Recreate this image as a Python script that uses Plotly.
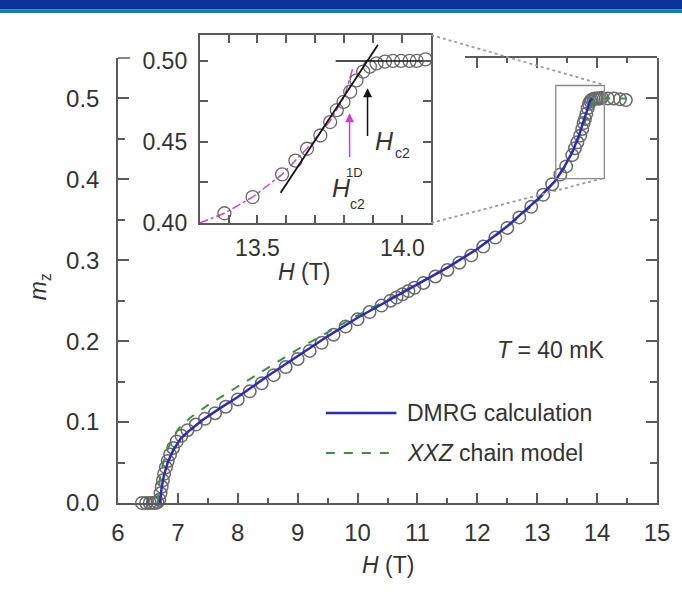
import plotly.graph_objects as go

# ---------------- data ----------------
H_data = [6.40, 6.47, 6.53, 6.58, 6.62, 6.66, 6.69, 6.71, 6.73, 6.75, 6.77, 6.80, 6.83, 6.87, 6.92, 6.98,
          7.06, 7.16, 7.30, 7.45, 7.62, 7.80, 8.00, 8.20, 8.40, 8.60, 8.80, 9.00, 9.20, 9.40, 9.60, 9.80,
          10.00, 10.20, 10.40, 10.55, 10.65, 10.75, 10.85, 10.95, 11.10, 11.30, 11.50, 11.70, 11.90,
          12.10, 12.30, 12.50, 12.70, 12.90, 13.10, 13.25,
          13.386, 13.483, 13.585, 13.631, 13.671, 13.717, 13.751, 13.774, 13.797, 13.82, 13.842, 13.865,
          13.888, 13.911, 13.94, 13.968, 13.996, 14.025, 14.05, 14.08, 14.18, 14.28, 14.38, 14.48]
m_data = [0.000, 0.000, 0.000, 0.000, 0.000, 0.001, 0.004, 0.012, 0.020, 0.028, 0.036, 0.044, 0.052, 0.060, 0.068, 0.076,
          0.083, 0.090, 0.097, 0.104, 0.111, 0.119, 0.128, 0.138, 0.148, 0.158, 0.168, 0.178, 0.188, 0.198, 0.208, 0.218,
          0.227, 0.236, 0.244, 0.250, 0.254, 0.258, 0.262, 0.266, 0.272, 0.280, 0.288, 0.297, 0.306,
          0.317, 0.328, 0.340, 0.353, 0.366, 0.381, 0.394,
          0.406, 0.416, 0.430, 0.4385, 0.4458, 0.454, 0.4623, 0.4696, 0.4747, 0.481, 0.488, 0.4934,
          0.4965, 0.4985, 0.4996, 0.500, 0.500, 0.500, 0.500, 0.501, 0.500, 0.500, 0.499, 0.498]

H_dmrg = [6.70, 6.73, 6.77, 6.83, 6.92, 7.05, 7.20, 7.40, 7.70, 8.00, 8.50, 9.00, 9.50, 10.00, 10.50, 11.00,
          11.50, 12.00, 12.50, 13.00, 13.30, 13.45, 13.60, 13.70, 13.78, 13.84, 13.88, 13.92]
m_dmrg = [0.000, 0.020, 0.035, 0.050, 0.065, 0.080, 0.090, 0.102, 0.117, 0.131, 0.157, 0.182, 0.206, 0.229, 0.250, 0.270,
          0.291, 0.314, 0.342, 0.375, 0.398, 0.415, 0.436, 0.455, 0.472, 0.487, 0.497, 0.500]

H_xxz = [6.66, 6.70, 6.75, 6.82, 6.90, 7.00, 7.20, 7.50, 8.00, 8.50, 9.00, 9.50, 10.00, 10.50, 11.00, 11.50,
         12.00, 12.50, 13.00, 13.30, 13.50, 13.70, 13.85, 13.95, 14.10, 14.50]
m_xxz = [0.000, 0.030, 0.048, 0.065, 0.078, 0.091, 0.105, 0.121, 0.144, 0.167, 0.190, 0.211, 0.232, 0.251, 0.271, 0.291,
         0.314, 0.341, 0.373, 0.398, 0.420, 0.452, 0.482, 0.500, 0.500, 0.500]

# inset guide lines
H_fit = [13.58, 13.916]
m_fit = [0.4186, 0.510]
H_sat = [13.77, 14.10]
m_sat = [0.500, 0.500]
H_1d = [13.30, 13.386, 13.483, 13.585, 13.671, 13.751, 13.80, 13.83]
m_1d = [0.400, 0.406, 0.416, 0.430, 0.446, 0.463, 0.478, 0.496]

x_ticks = [6, 7, 8, 9, 10, 11, 12, 13, 14, 15]
top_ticks = [12, 13, 14, 15]
y_ticks = [0.0, 0.1, 0.2, 0.3, 0.4, 0.5]
inset_x_ticks = [13.5, 14.0]
inset_y_ticks = [0.40, 0.45, 0.50]

# ---------------- style ----------------
AX = "#5a5a5a"
TXT = "#333333"
FONT = "Arial"
FS = 23

fig = go.Figure()

# main traces
fig.add_trace(go.Scatter(x=H_data, y=m_data, mode="markers", xaxis="x", yaxis="y",
                         marker=dict(symbol="circle-open", size=12.5, color="#6a6a6a", line=dict(width=1.5)),
                         cliponaxis=False, name="data"))
fig.add_trace(go.Scatter(x=H_xxz, y=m_xxz, mode="lines", xaxis="x", yaxis="y",
                         line=dict(color="#3f8f3f", width=2, dash="dash"), name="XXZ chain model"))
fig.add_trace(go.Scatter(x=H_dmrg, y=m_dmrg, mode="lines", xaxis="x", yaxis="y",
                         line=dict(color="#2b2bb8", width=2.5), name="DMRG calculation"))
# invisible anchor trace for the partial top frame axis
fig.add_trace(go.Scatter(x=[top_ticks[0]], y=[y_ticks[3]], mode="markers", xaxis="x3", yaxis="y",
                         marker=dict(opacity=0), hoverinfo="skip"))

# inset traces
fig.add_trace(go.Scatter(x=H_1d, y=m_1d, mode="lines", xaxis="x2", yaxis="y2",
                         line=dict(color="#d040d0", width=1.5, dash="dashdot")))
fig.add_trace(go.Scatter(x=H_data, y=m_data, mode="markers", xaxis="x2", yaxis="y2",
                         marker=dict(symbol="circle-open", size=13, color="#6a6a6a", line=dict(width=1.3))))
fig.add_trace(go.Scatter(x=H_fit, y=m_fit, mode="lines", xaxis="x2", yaxis="y2",
                         line=dict(color="#111111", width=1.8)))
fig.add_trace(go.Scatter(x=H_sat, y=m_sat, mode="lines", xaxis="x2", yaxis="y2",
                         line=dict(color="#111111", width=1.5)))

main_top = 0.9408
top_frame_start = 0.6439   # where the top frame re-appears to the right of the inset

def axis_common(size, mirror="ticks"):
    return dict(showline=True, linecolor=AX, linewidth=1.5, mirror=mirror, ticks="inside",
                tickcolor=AX, tickwidth=1.5, showgrid=False, zeroline=False,
                tickfont=dict(family=FONT, size=size, color=TXT))

fig.update_layout(
    width=682, height=604,
    margin=dict(l=118, r=22, t=30, b=101),
    paper_bgcolor="white", plot_bgcolor="rgba(0,0,0,0)",
    showlegend=False,
    xaxis=dict(domain=[0, 1], range=[6, 15], anchor="y", tickvals=x_ticks, ticklen=10,
               minor=dict(dtick=0.5, tick0=6, ticks="inside", ticklen=5, tickcolor=AX, tickwidth=1.5),
               ticklabelstandoff=7, **axis_common(24, mirror=False)),
    xaxis3=dict(domain=[top_frame_start, 1], range=[6 + top_frame_start * 9, 15], anchor="y", side="top",
                tickvals=top_ticks, ticklen=10, showticklabels=False,
                minor=dict(dtick=0.5, tick0=6, ticks="inside", ticklen=5, tickcolor=AX, tickwidth=1.5),
                **axis_common(24, mirror=False)),
    yaxis=dict(domain=[0, main_top], range=[0, 0.55], anchor="x", tickvals=y_ticks, tickformat=".1f",
               ticklen=11,
               minor=dict(dtick=0.05, tick0=0, ticks="inside", ticklen=7, tickcolor=AX, tickwidth=1.5),
               ticklabelstandoff=12, **axis_common(24)),
    xaxis2=dict(domain=[0.1513, 0.5812], range=[13.3, 14.1], anchor="y2", tickvals=inset_x_ticks,
                tickformat=".1f", ticklen=8,
                minor=dict(dtick=0.1, tick0=13.3, ticks="inside", ticklen=8, tickcolor=AX, tickwidth=1.5),
                ticklabelstandoff=4, **axis_common(23)),
    yaxis2=dict(domain=[0.592, 0.9894], range=[0.40, 0.516], anchor="x2", tickvals=inset_y_ticks,
                tickformat=".2f", ticklen=9,
                minor=dict(dtick=0.025, tick0=0.4, ticks="inside", ticklen=9, tickcolor=AX, tickwidth=1.5),
                ticklabelstandoff=6, **axis_common(23)),
)

shapes = []
# header banner
shapes.append(dict(type="rect", xref="paper", yref="paper", x0=-0.3, x1=1.1, y0=1.0434, y1=1.08,
                   fillcolor="#0a3399", line=dict(width=0), layer="above"))
shapes.append(dict(type="rect", xref="paper", yref="paper", x0=-0.3, x1=1.1, y0=1.0360, y1=1.0434,
                   fillcolor="#16809f", line=dict(width=0), layer="above"))
# short stub of the top frame at the upper-left corner
shapes.append(dict(type="line", xref="paper", yref="paper", x0=0, x1=0.0221, y0=main_top, y1=main_top,
                   line=dict(color=AX, width=1.5)))
# zoom rectangle on main plot
shapes.append(dict(type="rect", xref="x", yref="y", x0=13.31, x1=14.12, y0=0.401, y1=0.516,
                   line=dict(color="#8a8a8a", width=1.3)))
# connector dotted lines
shapes.append(dict(type="line", xref="paper", yref="paper", x0=0.5812, y0=0.9894, x1=0.9022, y1=0.8837,
                   line=dict(color="#9a9a9a", width=1.8, dash="dot")))
shapes.append(dict(type="line", xref="paper", yref="paper", x0=0.5812, y0=0.592, x1=0.9022, y1=0.6871,
                   line=dict(color="#9a9a9a", width=1.8, dash="dot")))
# legend samples
shapes.append(dict(type="line", xref="paper", yref="paper", x0=0.3856, x1=0.5166, y0=0.1903, y1=0.1903,
                   line=dict(color="#2b2bb8", width=2.5)))
shapes.append(dict(type="line", xref="paper", yref="paper", x0=0.3856, x1=0.5055, y0=0.1057, y1=0.1057,
                   line=dict(color="#3f8f3f", width=2, dash="dash")))
fig.update_layout(shapes=shapes)

ann = []
def txt(text, x, y, size=FS, xref="paper", yref="paper", xanchor="center", yanchor="middle", angle=0, color=TXT):
    ann.append(dict(text=text, x=x, y=y, xref=xref, yref=yref, xanchor=xanchor, yanchor=yanchor,
                    showarrow=False, textangle=angle, font=dict(family=FONT, size=size, color=color)))

txt("<i>H</i> (T)", 0.5018, -0.1311)
txt("<i>m</i><sub>z</sub>", -0.144, 0.4567, angle=-90)
txt("<i>H</i> (T)", 0.345, 0.4884)
txt("<i>T</i> = 40 mK", 0.6993, 0.3235, xanchor="left")
txt("DMRG calculation", 0.5332, 0.1903, xanchor="left")
txt("<i>XXZ</i> chain model", 0.5332, 0.1057, xanchor="left")
# inset labels
txt("<i>H</i>", 13.940, 0.4509, size=25, xref="x2", yref="y2")
txt("c2", 14.002, 0.4432, size=14, xref="x2", yref="y2")
txt("<i>H</i>", 13.791, 0.4214, size=25, xref="x2", yref="y2")
txt("1D", 13.835, 0.4312, size=13, xref="x2", yref="y2")
txt("c2", 13.846, 0.4118, size=14, xref="x2", yref="y2")
# arrows
ann.append(dict(x=13.818, y=0.4677, ax=13.818, ay=0.4398, xref="x2", yref="y2", axref="x2", ayref="y2",
                text="", showarrow=True, arrowhead=2, arrowsize=1.2, arrowwidth=1.5, arrowcolor="#d040d0"))
ann.append(dict(x=13.880, y=0.4832, ax=13.880, ay=0.4528, xref="x2", yref="y2", axref="x2", ayref="y2",
                text="", showarrow=True, arrowhead=2, arrowsize=1.2, arrowwidth=1.5, arrowcolor="#111111"))
fig.update_layout(annotations=ann)

fig.write_html("out.html", config={"displayModeBar": False},
               post_script="document.body.style.margin='0';document.body.style.padding='0';")
